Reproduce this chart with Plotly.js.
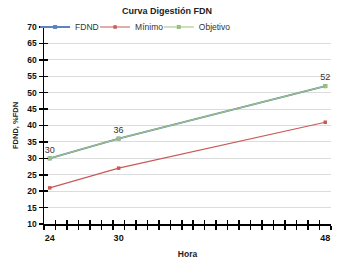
<!DOCTYPE html>
<html><head><meta charset="utf-8">
<script src="https://cdn.plot.ly/plotly-3.0.1.min.js"></script>
<style>html,body{margin:0;padding:0;background:#fff}#c{width:347px;height:263px}</style>
</head><body><div id="c"></div>
<script>
const hours = [24, 30, 48];
const fdnd = [30, 36, 52];
const minimo = [21, 27, 41];
const objetivo = [30, 36, 52];
const labels = ['30', '36', '52'];
const xLabelVals = [24, 30, 48];
const xRange = [23.5, 48.5];
const xSlotTicks = [];
for (let h = xRange[0]; h <= xRange[1]; h += 1) xSlotTicks.push(h);
const yTickVals = [10, 15, 20, 25, 30, 35, 40, 45, 50, 55, 60, 65, 70];

const F = 'Liberation Sans, Arial, sans-serif';
const traces = [
  {x: hours, y: fdnd, name: 'FDND', legend: 'legend', mode: 'lines+markers', line: {color: '#5b84c0', width: 1.8},
   marker: {symbol: 'square', size: 4, color: '#5b84c0'}},
  {x: hours, y: minimo, name: 'Mínimo', legend: 'legend2', mode: 'lines+markers', line: {color: '#c85a57', width: 1.2},
   marker: {symbol: 'square', size: 3.5, color: '#c85a57'}},
  {x: hours, y: objetivo, name: 'Objetivo', legend: 'legend3', mode: 'lines+markers+text', text: labels, cliponaxis: false,
   textposition: 'top center', textfont: {family: F, size: 9, color: '#333'},
   line: {color: '#9bc07a', width: 1.2}, marker: {symbol: 'square', size: 4, color: '#9bc07a'}},
  {x: [hours[0]], y: [minimo[0]], xaxis: 'x2', yaxis: 'y2', mode: 'markers', marker: {opacity: 0},
   showlegend: false, hoverinfo: 'skip'}
];
const legBase = {orientation: 'h', xanchor: 'left', y: 1.0, yanchor: 'middle', bgcolor: 'rgba(0,0,0,0)',
  font: {family: F, size: 8.5, color: '#333'}, itemwidth: 30, borderwidth: 0};
const layout = {
  width: 347, height: 263,
  margin: {l: 44, r: 16, t: 20, b: 39},
  paper_bgcolor: '#fff', plot_bgcolor: '#fff',
  title: {text: 'Curva Digestión FDN', font: {family: F, size: 9, color: '#222', weight: 'bold'},
    x: 0.481, xanchor: 'center', y: 0.958, yanchor: 'middle'},
  showlegend: true,
  legend: Object.assign({}, legBase, {x: -0.031}),
  legend2: Object.assign({}, legBase, {x: 0.178}),
  legend3: Object.assign({}, legBase, {x: 0.4}),
  xaxis: {range: xRange, tickmode: 'array', tickvals: xLabelVals,
    ticks: 'outside', ticklen: 5, tickwidth: 1, tickcolor: 'rgba(0,0,0,0)', showgrid: false, zeroline: false,
    showline: true, linecolor: '#000', linewidth: 1.5,
    minor: {tickmode: 'array', tickvals: xSlotTicks, ticks: 'outside', ticklen: 4, tickwidth: 1.5, tickcolor: '#000', showgrid: false},
    tickfont: {family: F, size: 9, color: '#111', weight: 'bold'},
    title: {text: 'Hora', font: {family: F, size: 8.5, color: '#222', weight: 'bold'}, standoff: 9}},
  xaxis2: {range: xRange, overlaying: 'x', anchor: 'y', side: 'bottom', tickmode: 'array', tickvals: xSlotTicks,
    ticks: 'inside', ticklen: 4, tickwidth: 1.5, tickcolor: '#000', showticklabels: false, showgrid: false,
    zeroline: false, showline: false},
  yaxis: {range: [10, 70], tickmode: 'array', tickvals: yTickVals,
    ticks: 'outside', ticklen: 4, tickwidth: 1.5, tickcolor: '#000', showgrid: true, gridcolor: '#dcdcdc', gridwidth: 1,
    zeroline: false, showline: true, linecolor: '#000', linewidth: 1.5,
    tickfont: {family: F, size: 8.5, color: '#111', weight: 'bold'},
    title: {text: 'FDND, %FDN', font: {family: F, size: 7.5, color: '#222', weight: 'bold'}, standoff: 7}},
  yaxis2: {range: [10, 70], overlaying: 'y', anchor: 'x', side: 'left', tickmode: 'array', tickvals: yTickVals,
    ticks: 'inside', ticklen: 4, tickwidth: 1.5, tickcolor: '#000', showticklabels: false, showgrid: false,
    zeroline: false, showline: false}
};
Plotly.newPlot('c', traces, layout, {displayModeBar: false, staticPlot: true});
</script></body></html>
